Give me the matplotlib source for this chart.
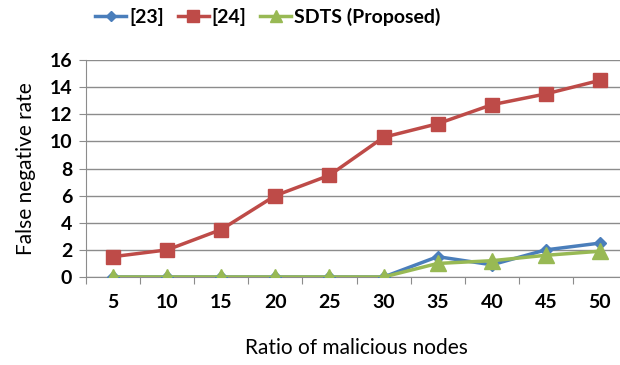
import matplotlib.pyplot as plt
import numpy as np

ratios = ['5', '10', '15', '20', '25', '30', '35', '40', '45', '50']
ref23 = [0, 0, 0, 0, 0, 0, 1.5, 0.9, 2.0, 2.5]
ref24 = [1.5, 2.0, 3.5, 6.0, 7.5, 10.3, 11.3, 12.7, 13.5, 14.5]
sdts = [0, 0, 0, 0, 0, 0, 1.0, 1.2, 1.6, 1.9]

plt.rcParams['font.family'] = ['Lato', 'DejaVu Sans']

fig = plt.figure(figsize=(6.2, 3.65), dpi=100)
ax = fig.add_axes([86 / 620, 1 - 277 / 365, 541 / 620, 217 / 365])

x = np.arange(1, len(ratios) + 1)
l1, = ax.plot(x, ref23, color='#4a7ebb', marker='D', markersize=6.5, linewidth=2.5, label='[23]', zorder=3)
l2, = ax.plot(x, ref24, color='#be4b48', marker='s', markersize=10, linewidth=2.5, label='[24]', zorder=3)
l3, = ax.plot(x, sdts, color='#98b954', marker='^', markersize=11, linewidth=2.5, label='SDTS (Proposed)', zorder=4)

ax.set_xlim(0.5, 10.5)
ax.set_ylim(0, 16)
ax.set_yticks(range(0, 17, 2))
ax.yaxis.grid(True, color='#8c8c8c', linewidth=1)
ax.set_axisbelow(True)

# category ticks between labels, like Excel
ax.set_xticks(np.arange(0.5, 11, 1))
ax.set_xticklabels([])
ax.set_xticks(x, minor=True)
ax.set_xticklabels(ratios, minor=True)
ax.tick_params(axis='x', which='major', length=5, direction='out', color='#8c8c8c')
ax.tick_params(axis='x', which='minor', length=0, pad=12, labelsize=14)
ax.tick_params(axis='y', length=5, color='#8c8c8c', labelsize=14, pad=5)
for lab in ax.get_xticklabels(minor=True) + ax.get_yticklabels():
    lab.set_fontweight('bold')

for s in ['top', 'right']:
    ax.spines[s].set_visible(False)
ax.spines['left'].set_color('#8c8c8c')
ax.spines['bottom'].set_color('#8c8c8c')

ax.set_xlabel('Ratio of malicious nodes', fontsize=15, labelpad=20)
ax.set_ylabel('False negative rate', fontsize=15, labelpad=10)

fig.legend(handles=[l1, l2, l3], loc='center', bbox_to_anchor=(268 / 620, 1 - 17 / 365),
           ncol=3, frameon=False, handlelength=1.6,
           columnspacing=0.7, handletextpad=0.15, markerscale=0.8,
           prop={'weight': 'bold', 'size': 14})

fig.savefig('out.png', dpi=100)
